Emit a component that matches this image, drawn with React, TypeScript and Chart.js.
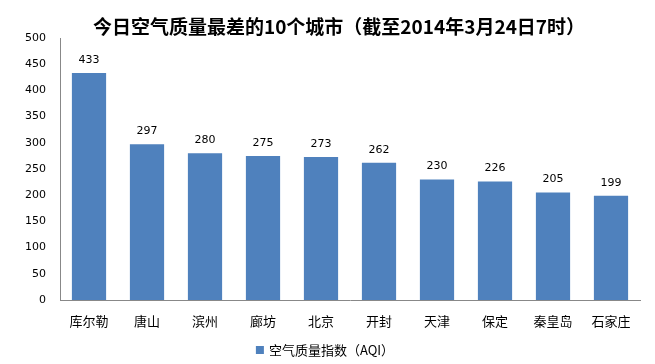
import React, { useEffect, useRef } from "react";
import { Chart, registerables } from "chart.js";
Chart.register(...registerables);

const cities = ["库尔勒", "唐山", "滨州", "廊坊", "北京", "开封", "天津", "保定", "秦皇岛", "石家庄"];
const aqiValues = [433, 297, 280, 275, 273, 262, 230, 226, 205, 199];
const seriesName = "空气质量指数（AQI）";
const titleText = "今日空气质量最差的10个城市（截至2014年3月24日7时）";

const barColor = "#4F81BD";
const cjk = "'Noto Sans CJK SC', 'DejaVu Sans', sans-serif";
const num = "'DejaVu Sans', sans-serif";

const valueLabels = {
  id: "valueLabels",
  afterDatasetsDraw(chart: any) {
    const ctx = chart.ctx;
    const meta = chart.getDatasetMeta(0);
    ctx.save();
    ctx.fillStyle = "#000";
    ctx.font = `11px ${num}`;
    ctx.textAlign = "center";
    ctx.textBaseline = "middle";
    meta.data.forEach((bar: any, i: number) => {
      ctx.fillText(String(chart.data.datasets[0].data[i]), bar.x, bar.y - 13);
    });
    ctx.restore();
  },
};

const titleAndLegend = {
  id: "titleAndLegend",
  afterDraw(chart: any) {
    const ctx = chart.ctx;
    ctx.save();
    ctx.fillStyle = "#000";
    ctx.font = `bold 19px ${cjk}`;
    ctx.textAlign = "center";
    ctx.textBaseline = "middle";
    ctx.fillText(titleText, 339, 27);
    // legend
    const ds = chart.data.datasets[0];
    ctx.font = `13px ${cjk}`;
    const tw = ctx.measureText(ds.label).width;
    const total = 8 + 5 + tw;
    const x0 = 325 - total / 2;
    ctx.fillStyle = ds.backgroundColor;
    ctx.fillRect(x0, 346, 8, 8);
    ctx.fillStyle = "#000";
    ctx.textAlign = "left";
    ctx.fillText(ds.label, x0 + 13, 350.5);
    ctx.restore();
  },
};

export default function App() {
  const ref = useRef<HTMLCanvasElement>(null);
  useEffect(() => {
    document.body.style.margin = "0";
    const chart = new Chart(ref.current!, {
      type: "bar",
      data: {
        labels: cities,
        datasets: [
          {
            label: seriesName,
            data: aqiValues,
            backgroundColor: barColor,
            categoryPercentage: 1,
            barPercentage: 0.59,
          },
        ],
      },
      options: {
        animation: false,
        responsive: false,
        layout: { padding: { left: 0, right: 15, top: 38, bottom: 26 } },
        plugins: {
          title: { display: false },
          legend: { display: false },
          tooltip: { enabled: false },
        },
        scales: {
          x: {
            grid: { display: false, drawTicks: false },
            border: { display: true, color: "#888" },
            ticks: { color: "#000", font: { family: cjk, size: 13 }, padding: 13, maxRotation: 0, autoSkip: false },
            afterFit(scale: any) {
              scale.height = 38;
            },
          },
          y: {
            min: 0,
            max: 500,
            grid: { display: false, drawTicks: false },
            border: { display: true, color: "#888" },
            ticks: { stepSize: 50, color: "#000", font: { family: num, size: 11 }, padding: 14 },
            afterFit(scale: any) {
              scale.width = 60;
            },
          },
        },
      },
      plugins: [valueLabels, titleAndLegend],
    });
    return () => chart.destroy();
  }, []);
  return <canvas ref={ref} width={655} height={364} style={{ display: "block" }} />;
}
